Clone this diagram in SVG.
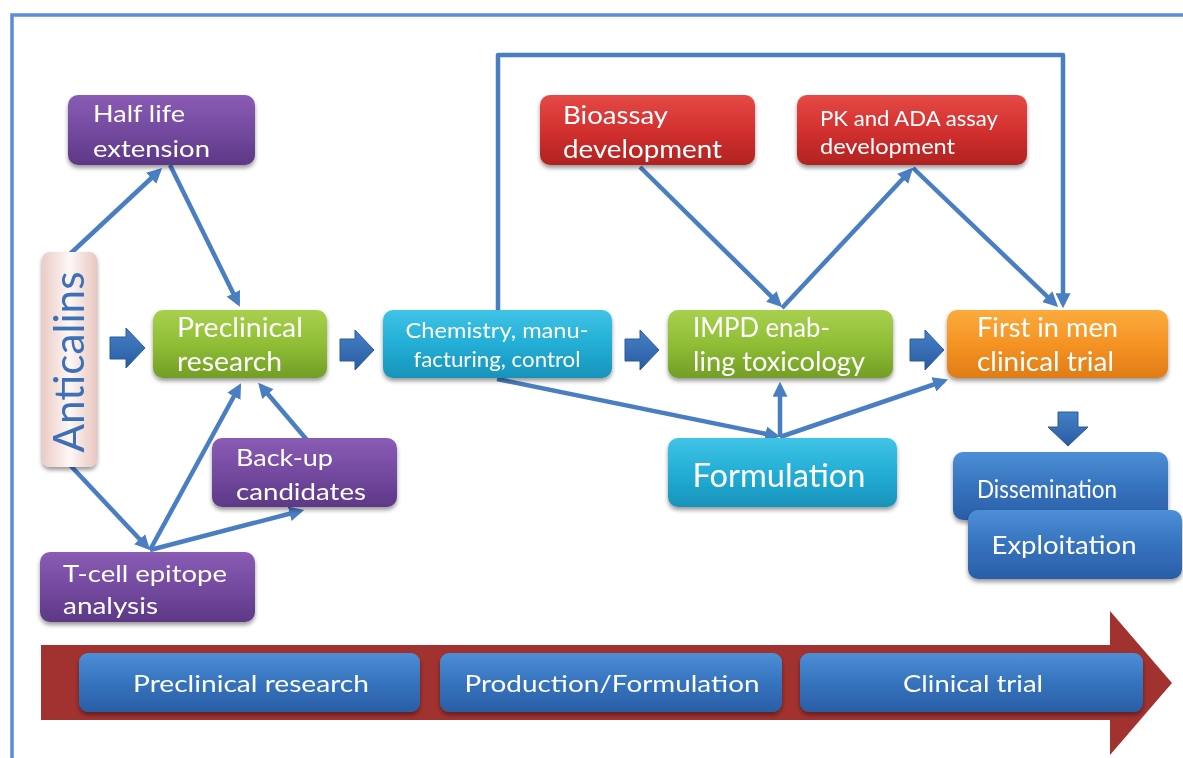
<svg xmlns="http://www.w3.org/2000/svg" width="1183" height="758" viewBox="0 0 1183 758">
  <defs>
    <style>
      .lbl { font-family: Lato, "Noto Sans", "Liberation Sans", sans-serif; fill: #ffffff; }
      .link { fill: none; stroke: #4a7ec2; stroke-width: 4.5; stroke-linejoin: round; marker-end: url(#tip); }
      .fat { fill: url(#gFat); stroke: #2a5a9e; stroke-width: 1; }
      .box { filter: url(#shadow); }
    </style>
    <marker id="tip" viewBox="0 0 14 14" refX="10" refY="7" markerWidth="15" markerHeight="15" markerUnits="userSpaceOnUse" orient="auto">
      <path d="M0,0 L14,7 L0,14 z" fill="#4a7ec2"/>
    </marker>
    <filter id="shadow" x="-10%" y="-10%" width="120%" height="130%">
      <feDropShadow dx="0" dy="3" stdDeviation="2" flood-color="#000" flood-opacity="0.4"/>
    </filter>
    <linearGradient id="gPurple" x1="0" y1="0" x2="0" y2="1">
      <stop offset="0" stop-color="#8a5cb4"/>
      <stop offset="0.5" stop-color="#744aa0"/>
      <stop offset="1" stop-color="#5d3886"/>
    </linearGradient>
    <linearGradient id="gGreen" x1="0" y1="0" x2="0" y2="1">
      <stop offset="0" stop-color="#a8d04e"/>
      <stop offset="0.5" stop-color="#8fbe36"/>
      <stop offset="1" stop-color="#729e25"/>
    </linearGradient>
    <linearGradient id="gCyan" x1="0" y1="0" x2="0" y2="1">
      <stop offset="0" stop-color="#40c3e6"/>
      <stop offset="0.5" stop-color="#23aed6"/>
      <stop offset="1" stop-color="#1893ba"/>
    </linearGradient>
    <linearGradient id="gRed" x1="0" y1="0" x2="0" y2="1">
      <stop offset="0" stop-color="#e54a45"/>
      <stop offset="0.5" stop-color="#d3302f"/>
      <stop offset="1" stop-color="#b02322"/>
    </linearGradient>
    <linearGradient id="gOrange" x1="0" y1="0" x2="0" y2="1">
      <stop offset="0" stop-color="#fbab3d"/>
      <stop offset="0.5" stop-color="#f59324"/>
      <stop offset="1" stop-color="#e07c15"/>
    </linearGradient>
    <linearGradient id="gBlue" x1="0" y1="0" x2="0" y2="1">
      <stop offset="0" stop-color="#4d8fd6"/>
      <stop offset="0.5" stop-color="#3673be"/>
      <stop offset="1" stop-color="#2a5ea6"/>
    </linearGradient>
    <linearGradient id="gPink" x1="0" y1="0" x2="1" y2="0">
      <stop offset="0" stop-color="#eccbc5"/>
      <stop offset="0.5" stop-color="#fdf7f6"/>
      <stop offset="1" stop-color="#e9c6c0"/>
    </linearGradient>
    <linearGradient id="gFat" x1="0" y1="0" x2="0" y2="1">
      <stop offset="0" stop-color="#4580c6"/>
      <stop offset="1" stop-color="#2a5ca2"/>
    </linearGradient>
  </defs>

  <rect x="0" y="0" width="1183" height="758" fill="#ffffff"/>

  <!-- outer frame (top and left edges) -->
  <path d="M12,758 V15 H1183" fill="none" stroke="#5b8dd8" stroke-width="3.5"/>

  <!-- timeline band -->
  <g id="timeline">
    <path d="M41,645 H1110 V611 L1172,683 L1110,755 V720 H41 Z" fill="#a1322f"/>
    <g id="phase-preclinical" class="box">
      <rect x="79" y="653" width="341" height="59" rx="9" fill="url(#gBlue)"/>
      <text class="lbl" x="251" y="692" font-size="24" text-anchor="middle" textLength="236" lengthAdjust="spacingAndGlyphs">Preclinical research</text>
    </g>
    <g id="phase-production" class="box">
      <rect x="440" y="653" width="342" height="59" rx="9" fill="url(#gBlue)"/>
      <text class="lbl" x="612" y="692" font-size="24" text-anchor="middle" textLength="295" lengthAdjust="spacingAndGlyphs">Production/Formulation</text>
    </g>
    <g id="phase-clinical" class="box">
      <rect x="800" y="653" width="343" height="59" rx="9" fill="url(#gBlue)"/>
      <text class="lbl" x="973" y="692" font-size="24" text-anchor="middle" textLength="140" lengthAdjust="spacingAndGlyphs">Clinical trial</text>
    </g>
  </g>

  <!-- connectors -->
  <g id="connectors">
    <line class="link" x1="70" y1="254" x2="159" y2="171"/>
    <line class="link" x1="170" y1="165" x2="238" y2="303"/>
    <line class="link" x1="70" y1="465" x2="147" y2="547"/>
    <line class="link" x1="150" y1="550" x2="239" y2="387"/>
    <line class="link" x1="150" y1="550" x2="300" y2="511"/>
    <line class="link" x1="307" y1="440" x2="261" y2="386"/>
    <path class="link" d="M498,310 V55 H1063 V304"/>
    <line class="link" x1="640" y1="167" x2="779" y2="304"/>
    <line class="link" x1="782" y1="308" x2="910" y2="171"/>
    <line class="link" x1="913" y1="168" x2="1055" y2="304"/>
    <line class="link" x1="497" y1="379" x2="776" y2="436"/>
    <line class="link" x1="780" y1="437" x2="780" y2="386"/>
    <line class="link" x1="780" y1="437" x2="944" y2="381"/>

    <!-- block arrows between stages -->
    <path class="fat" d="M110,337 H126 V328 L145,348 L126,368 V359 H110 Z"/>
    <path class="fat" d="M340,339 H355 V330 L374,350 L355,370 V361 H340 Z"/>
    <path class="fat" d="M625,339 H640 V330 L659,350 L640,370 V361 H625 Z"/>
    <path class="fat" d="M910,339 H925 V330 L944,350 L925,370 V361 H910 Z"/>
    <path class="fat" d="M1058,412 H1078 V427 H1088 L1068,446 L1048,427 H1058 Z"/>
  </g>

  <!-- nodes -->
  <g id="anticalins" class="box">
    <rect x="42" y="252" width="55" height="215" rx="8" fill="url(#gPink)"/>
    <text x="0" y="0" transform="translate(84,362) rotate(-90)" font-family="Lato, 'Noto Sans', 'Liberation Sans', sans-serif" font-size="43" fill="#3d6fb6" text-anchor="middle" textLength="181" lengthAdjust="spacingAndGlyphs">Anticalins</text>
  </g>

  <g id="half-life" class="box">
    <rect x="68" y="95" width="187" height="70" rx="10" fill="url(#gPurple)"/>
    <text class="lbl" x="93" y="122" font-size="24" textLength="92" lengthAdjust="spacingAndGlyphs">Half life</text>
    <text class="lbl" x="93" y="157" font-size="24" textLength="117" lengthAdjust="spacingAndGlyphs">extension</text>
  </g>

  <g id="preclinical" class="box">
    <rect x="153" y="310" width="174" height="68" rx="10" fill="url(#gGreen)"/>
    <text class="lbl" x="177" y="337" font-size="26" textLength="126" lengthAdjust="spacingAndGlyphs">Preclinical</text>
    <text class="lbl" x="177" y="371" font-size="26" textLength="105" lengthAdjust="spacingAndGlyphs">research</text>
  </g>

  <g id="backup" class="box">
    <rect x="212" y="438" width="185" height="69" rx="10" fill="url(#gPurple)"/>
    <text class="lbl" x="236" y="466" font-size="24" textLength="97" lengthAdjust="spacingAndGlyphs">Back-up</text>
    <text class="lbl" x="236" y="500" font-size="24" textLength="130" lengthAdjust="spacingAndGlyphs">candidates</text>
  </g>

  <g id="tcell" class="box">
    <rect x="40" y="552" width="215" height="70" rx="10" fill="url(#gPurple)"/>
    <text class="lbl" x="63" y="582" font-size="24" textLength="164" lengthAdjust="spacingAndGlyphs">T-cell epitope</text>
    <text class="lbl" x="63" y="614" font-size="24" textLength="95" lengthAdjust="spacingAndGlyphs">analysis</text>
  </g>

  <g id="cmc" class="box">
    <rect x="383" y="310" width="229" height="68" rx="10" fill="url(#gCyan)"/>
    <text class="lbl" x="497" y="338" font-size="21" text-anchor="middle" textLength="183" lengthAdjust="spacingAndGlyphs">Chemistry, manu-</text>
    <text class="lbl" x="497" y="367" font-size="21" text-anchor="middle" textLength="167" lengthAdjust="spacingAndGlyphs">facturing, control</text>
  </g>

  <g id="bioassay" class="box">
    <rect x="540" y="95" width="215" height="70" rx="10" fill="url(#gRed)"/>
    <text class="lbl" x="563" y="124" font-size="25" textLength="105" lengthAdjust="spacingAndGlyphs">Bioassay</text>
    <text class="lbl" x="563" y="158" font-size="25" textLength="159" lengthAdjust="spacingAndGlyphs">development</text>
  </g>

  <g id="pk-ada" class="box">
    <rect x="797" y="95" width="230" height="70" rx="10" fill="url(#gRed)"/>
    <text class="lbl" x="820" y="126" font-size="21" textLength="178" lengthAdjust="spacingAndGlyphs">PK and ADA assay</text>
    <text class="lbl" x="820" y="154" font-size="21" textLength="135" lengthAdjust="spacingAndGlyphs">development</text>
  </g>

  <g id="impd" class="box">
    <rect x="668" y="310" width="225" height="68" rx="10" fill="url(#gGreen)"/>
    <text class="lbl" x="693" y="337" font-size="26" textLength="137" lengthAdjust="spacingAndGlyphs">IMPD enab-</text>
    <text class="lbl" x="693" y="371" font-size="26" textLength="172" lengthAdjust="spacingAndGlyphs">ling toxicology</text>
  </g>

  <g id="first-in-men" class="box">
    <rect x="947" y="310" width="221" height="68" rx="10" fill="url(#gOrange)"/>
    <text class="lbl" x="977" y="337" font-size="26" textLength="141" lengthAdjust="spacingAndGlyphs">First in men</text>
    <text class="lbl" x="977" y="371" font-size="26" textLength="137" lengthAdjust="spacingAndGlyphs">clinical trial</text>
  </g>

  <g id="formulation" class="box">
    <rect x="668" y="438" width="229" height="69" rx="10" fill="url(#gCyan)"/>
    <text class="lbl" x="779" y="487" font-size="32" text-anchor="middle" textLength="173" lengthAdjust="spacingAndGlyphs">Formulation</text>
  </g>

  <g id="dissemination" class="box">
    <rect x="953" y="452" width="215" height="68" rx="10" fill="url(#gBlue)"/>
    <text class="lbl" x="1047" y="498" font-size="25" text-anchor="middle" textLength="140" lengthAdjust="spacingAndGlyphs">Dissemination</text>
  </g>

  <g id="exploitation" class="box">
    <rect x="968" y="510" width="214" height="69" rx="10" fill="url(#gBlue)"/>
    <text class="lbl" x="1064" y="554" font-size="25" text-anchor="middle" textLength="145" lengthAdjust="spacingAndGlyphs">Exploitation</text>
  </g>
</svg>
